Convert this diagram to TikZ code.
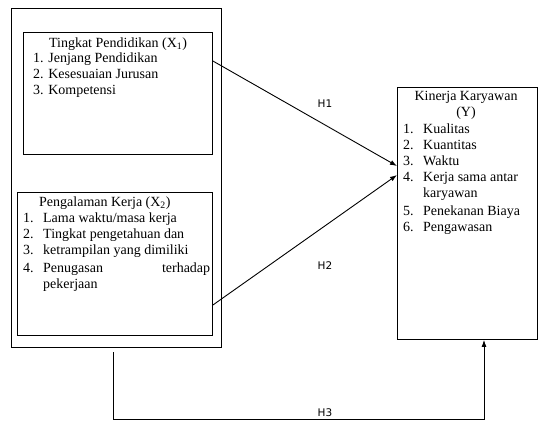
\documentclass[tikz,border=0pt]{standalone}
\usepackage{fontspec}
\setmainfont{Liberation Serif}
\newfontfamily\labfont{DejaVu Sans}
\usetikzlibrary{arrows.meta,calc}
\begin{document}
\begin{tikzpicture}[x=1pt,y=-1pt,
  box/.style={draw,line width=0.9pt,inner sep=0,anchor=north west},
  txt/.style={inner sep=0,font=\fontsize{14}{16}\selectfont},
  lab/.style={inner sep=0,font=\labfont\fontsize{10.5}{12}\selectfont},
  conn/.style={line width=0.9pt,-{Latex[length=7pt,width=5pt]}}]
\useasboundingbox (0,0) rectangle (544,426);
% boxes
\node[box,minimum width=210pt,minimum height=339pt] (outer) at (11,8) {};
\node[box,minimum width=189pt,minimum height=122pt] (box1) at (23,32) {};
\node[box,minimum width=195pt,minimum height=143pt] (box2) at (17,192) {};
\node[box,minimum width=140pt,minimum height=252pt] (kin) at (397,87) {};
% texts box 1
\node[txt,anchor=base] (t1) at (118,47.5) {Tingkat Pendidikan (X\textsubscript{1})};
\node[txt,anchor=base west] (l1) at (33,62.5) {\begin{tabular}[t]{@{}l@{}}1. Jenjang Pendidikan\\2. Kesesuaian Jurusan\\3. Kompetensi\end{tabular}};
% texts box 2
\node[txt,anchor=base west] (t2) at (39,206.5) {Pengalaman Kerja (X\textsubscript{2})};
\node[txt,anchor=base west] (l2) at (23,222) {\begin{tabular}[t]{@{}p{20pt}@{}p{167pt}@{}}1.&Lama waktu/masa kerja\\2.&Tingkat pengetahuan dan\\3.&ketrampilan yang dimiliki\\[2pt]4.&Penugasan\hfill terhadap\\&pekerjaan\end{tabular}};
% texts right box
\node[txt,anchor=base] (t3) at (466,100.5) {\begin{tabular}[t]{@{}c@{}}Kinerja Karyawan\\(Y)\end{tabular}};
\node[txt,anchor=base west] (l3) at (403,133) {\begin{tabular}[t]{@{}p{20pt}@{}l@{}}1.&Kualitas\\2.&Kuantitas\\3.&Waktu\\4.&Kerja sama antar\\&karyawan\\[2pt]5.&Penekanan Biaya\\6.&Pengawasan\end{tabular}};
% connectors
\draw[conn] ($(box1.north east)+(0,29)$) -- ($(kin.north west)+(0,79)$);
\draw[conn] ($(box2.north east)+(0,113)$) -- ($(kin.north west)+(0,88)$);
\coordinate (h3s) at (113,352);
\draw[conn] (h3s) |- ($(kin.south west)+(87,80)$) -- ($(kin.south west)+(87,0)$);
% labels
\node[lab] (h1) at (325,104) {H1};
\node[lab] (h2) at (325,266) {H2};
\node[lab] (h3) at (325,413) {H3};
\end{tikzpicture}
\end{document}
